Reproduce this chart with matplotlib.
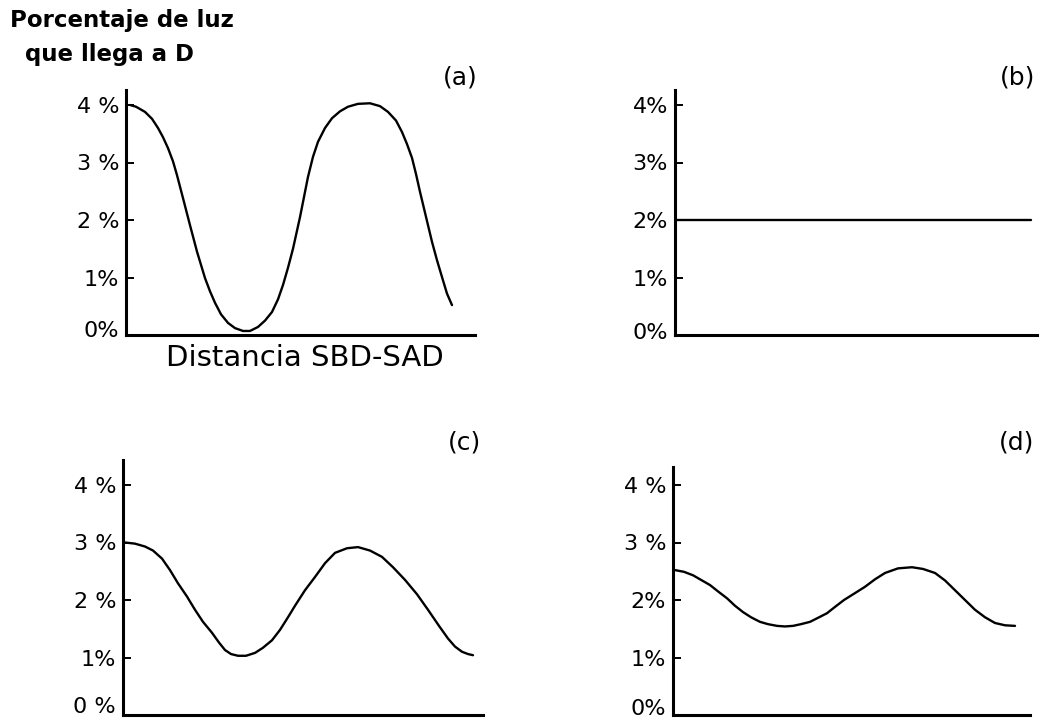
import numpy as np
import matplotlib
matplotlib.use("Agg")
from matplotlib import pyplot as plt
from matplotlib.transforms import ScaledTranslation

# distance along the x axis (arbitrary units, 0 = y axis), light in %
xa = [4, 10, 19, 26, 32, 37, 42, 47, 51, 57, 64, 71, 79, 84, 89, 95, 102, 109,
      117, 124, 132, 139, 146, 152, 157, 162, 167, 174, 182, 187, 192, 199, 206,
      214, 222, 232, 244, 254, 262, 270, 276, 281, 286, 290, 294, 298, 302, 306,
      311, 317, 321, 326]
ya = [4.0, 3.97, 3.88, 3.76, 3.6, 3.44, 3.25, 3.02, 2.78, 2.38, 1.91, 1.45, 0.99,
      0.76, 0.56, 0.36, 0.21, 0.12, 0.07, 0.07, 0.14, 0.25, 0.4, 0.62, 0.87, 1.17,
      1.5, 2.05, 2.75, 3.1, 3.36, 3.6, 3.77, 3.89, 3.97, 4.02, 4.03, 3.98, 3.88,
      3.73, 3.53, 3.32, 3.08, 2.8, 2.49, 2.2, 1.91, 1.62, 1.3, 0.95, 0.72, 0.52]

xb = [0, 356]
yb = [2.0, 2.0]

xc = [2, 12, 22, 30, 39, 47, 55, 64, 72, 80, 89, 96, 102, 108, 115, 123, 132,
      140, 149, 157, 165, 172, 182, 192, 202, 212, 224, 235, 247, 259, 270, 282,
      294, 305, 316, 325, 332, 339, 345, 350]
yc = [3.0, 2.98, 2.93, 2.86, 2.72, 2.52, 2.29, 2.06, 1.83, 1.62, 1.43, 1.26, 1.13,
      1.06, 1.03, 1.03, 1.08, 1.17, 1.3, 1.48, 1.7, 1.9, 2.17, 2.4, 2.64, 2.82,
      2.9, 2.92, 2.86, 2.75, 2.57, 2.35, 2.1, 1.83, 1.55, 1.33, 1.19, 1.1, 1.06,
      1.04]

xd = [2, 11, 20, 28, 37, 45, 54, 62, 70, 78, 87, 95, 104, 112, 120, 128, 137,
      145, 154, 162, 171, 182, 192, 202, 212, 225, 239, 250, 262, 272, 282, 292,
      302, 312, 322, 332, 342]
yd = [2.52, 2.49, 2.43, 2.35, 2.26, 2.15, 2.03, 1.9, 1.79, 1.7, 1.62, 1.58, 1.55,
      1.54, 1.55, 1.58, 1.62, 1.69, 1.77, 1.88, 2.0, 2.12, 2.23, 2.36, 2.47, 2.55,
      2.57, 2.54, 2.47, 2.34, 2.17, 2.0, 1.83, 1.7, 1.6, 1.56, 1.55]

ticks = [0, 1, 2, 3, 4]
labels_a = ["0%", "1%", "2 %", "3 %", "4 %"]
labels_b = ["0%", "1%", "2%", "3%", "4%"]
labels_c = ["0 %", "1%", "2 %", "3 %", "4 %"]
labels_d = ["0%", "1%", "2%", "3 %", "4 %"]

W, H = 1042, 721
fig = plt.figure(figsize=(W / 100, H / 100), dpi=100)


def panel(left, right, top, zero, x, y, labels, tag, tagpos, xmax, lift):
    # pixel box -> figure fraction, 57.5 px per 1 %
    ax = fig.add_axes([left / W, 1 - zero / H, (right - left) / W, (zero - top) / H])
    ax.plot(x, y, color="black", lw=1.7, solid_capstyle="round",
            solid_joinstyle="round")
    ax.set_xlim(0, xmax)
    ax.set_ylim(0, (zero - top) / 57.5)
    for s in ["top", "right"]:
        ax.spines[s].set_visible(False)
    for s in ["left", "bottom"]:
        ax.spines[s].set_linewidth(2.2)
    ax.set_xticks([])
    ax.set_yticks(ticks)
    ax.set_yticklabels(labels)
    ax.tick_params(axis="y", direction="in", length=6, width=1.4, pad=5,
                   labelsize=16)
    # the 0 % label sits a little above the x axis
    lab0 = ax.get_yticklabels()[0]
    lab0.set_transform(lab0.get_transform() + ScaledTranslation(0, lift / 100, fig.dpi_scale_trans))
    fig.text(tagpos[0] / W, 1 - tagpos[1] / H, tag, fontsize=18,
             ha="center", va="center")
    return ax


axa = panel(126, 475, 90, 335, xa, ya, labels_a, "(a)", (460, 78), 349, 6)
axb = panel(675, 1037, 90, 335, xb, yb, labels_b, "(b)", (1018, 78), 362, 4)
axc = panel(123, 483, 460, 715, xc, yc, labels_c, "(c)", (465, 443), 360, 10)
axd = panel(673, 1030, 467, 715, xd, yd, labels_d, "(d)", (1017, 443), 357, 8)

fig.text(10 / W, 1 - 21 / H, "Porcentaje de luz", fontsize=16.5,
         family="DejaVu Sans", fontweight="bold", ha="left", va="center")
fig.text(25 / W, 1 - 55 / H, "que llega a D", fontsize=16.5,
         family="DejaVu Sans", fontweight="bold", ha="left", va="center")
fig.text(305 / W, 1 - 358 / H, "Distancia SBD-SAD", fontsize=21,
         ha="center", va="center")

fig.savefig("out.png", dpi=100, facecolor="white")
